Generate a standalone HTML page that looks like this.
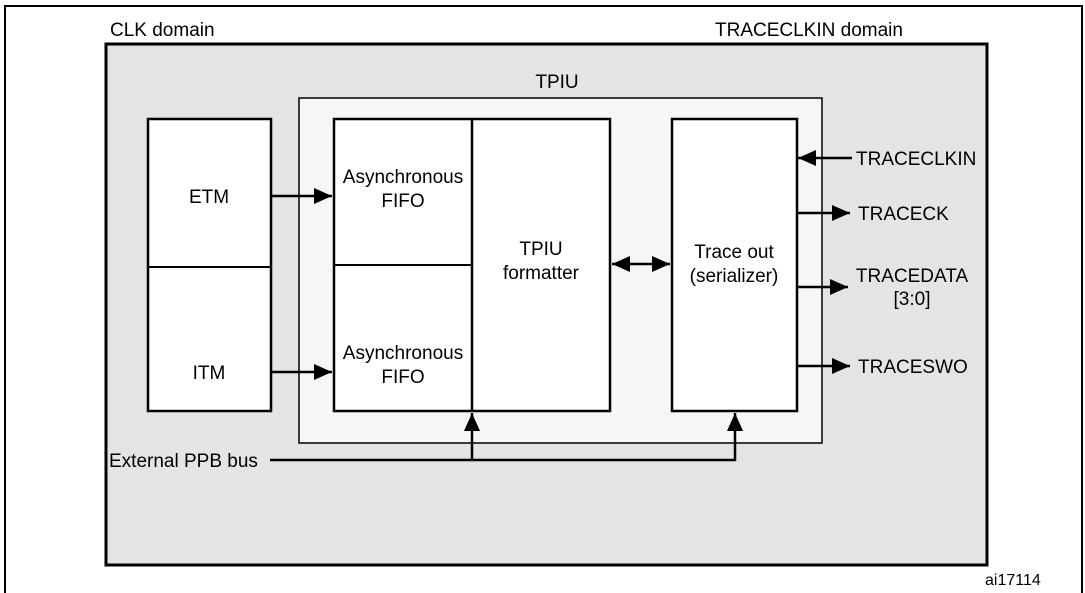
<!DOCTYPE html>
<html><head><meta charset="utf-8"><style>
html,body{margin:0;padding:0;background:#fff;}
svg{display:block;}
text{font-family:"Liberation Sans",Arial,sans-serif;font-size:19px;fill:#000;}
</style></head><body>
<svg width="1085" height="593" viewBox="0 0 1085 593">
<defs>
<marker id="a2" markerWidth="18" markerHeight="16" refX="18" refY="8" orient="auto-start-reverse" markerUnits="userSpaceOnUse">
<path d="M0,0 L18,8 L0,16 Z" fill="#000"/></marker>
</defs>
<rect x="0" y="0" width="1085" height="593" fill="#fff"/>
<path d="M5,593 V6 H1082 V593" fill="none" stroke="#000" stroke-width="2"/>
<text x="110" y="36">CLK domain</text>
<text x="715" y="36">TRACECLKIN domain</text>
<rect x="106" y="44" width="881" height="521" fill="#e4e4e4" stroke="#000" stroke-width="3"/>
<text x="557" y="88" text-anchor="middle">TPIU</text>
<rect x="299" y="98" width="523" height="345" fill="#f6f6f6" stroke="#000" stroke-width="1.5"/>
<rect x="148" y="119" width="123" height="292" fill="#fff" stroke="#000" stroke-width="2.5"/>
<line x1="148" y1="267" x2="271" y2="267" stroke="#000" stroke-width="2"/>
<text x="209" y="203" text-anchor="middle">ETM</text>
<text x="209" y="379" text-anchor="middle">ITM</text>
<rect x="334" y="119" width="276" height="292" fill="#fff" stroke="#000" stroke-width="2.5"/>
<line x1="472" y1="119" x2="472" y2="411" stroke="#000" stroke-width="2.5"/>
<line x1="334" y1="265" x2="472" y2="265" stroke="#000" stroke-width="2"/>
<text x="403" y="183" text-anchor="middle">Asynchronous</text>
<text x="403" y="207" text-anchor="middle">FIFO</text>
<text x="403" y="359" text-anchor="middle">Asynchronous</text>
<text x="403" y="383" text-anchor="middle">FIFO</text>
<text x="541" y="255" text-anchor="middle">TPIU</text>
<text x="541" y="279" text-anchor="middle">formatter</text>
<rect x="672" y="119" width="125" height="292" fill="#fff" stroke="#000" stroke-width="2.5"/>
<text x="734" y="258" text-anchor="middle">Trace out</text>
<text x="734" y="282" text-anchor="middle">(serializer)</text>
<g stroke="#000" stroke-width="2.5" fill="none">
<line x1="271" y1="196" x2="332" y2="196" marker-end="url(#a2)"/>
<line x1="271" y1="372" x2="332" y2="372" marker-end="url(#a2)"/>
<line x1="612" y1="264" x2="670" y2="264" marker-start="url(#a2)" marker-end="url(#a2)"/>
<line x1="852" y1="158" x2="798" y2="158" marker-end="url(#a2)"/>
<line x1="797" y1="213" x2="850" y2="213" marker-end="url(#a2)"/>
<line x1="797" y1="287" x2="848" y2="287" marker-end="url(#a2)"/>
<line x1="797" y1="366" x2="850" y2="366" marker-end="url(#a2)"/>
<line x1="270" y1="460" x2="736" y2="460"/>
<line x1="472" y1="461" x2="472" y2="413" marker-end="url(#a2)"/>
<line x1="735" y1="461" x2="735" y2="413" marker-end="url(#a2)"/>
</g>
<text x="856" y="165">TRACECLKIN</text>
<text x="858" y="220">TRACECK</text>
<text x="912" y="282" text-anchor="middle">TRACEDATA</text>
<text x="912" y="305" text-anchor="middle">[3:0]</text>
<text x="858" y="373">TRACESWO</text>
<text x="109" y="467">External PPB bus</text>
<text x="985" y="585" style="font-size:16px">ai17114</text>
</svg>
</body></html>
